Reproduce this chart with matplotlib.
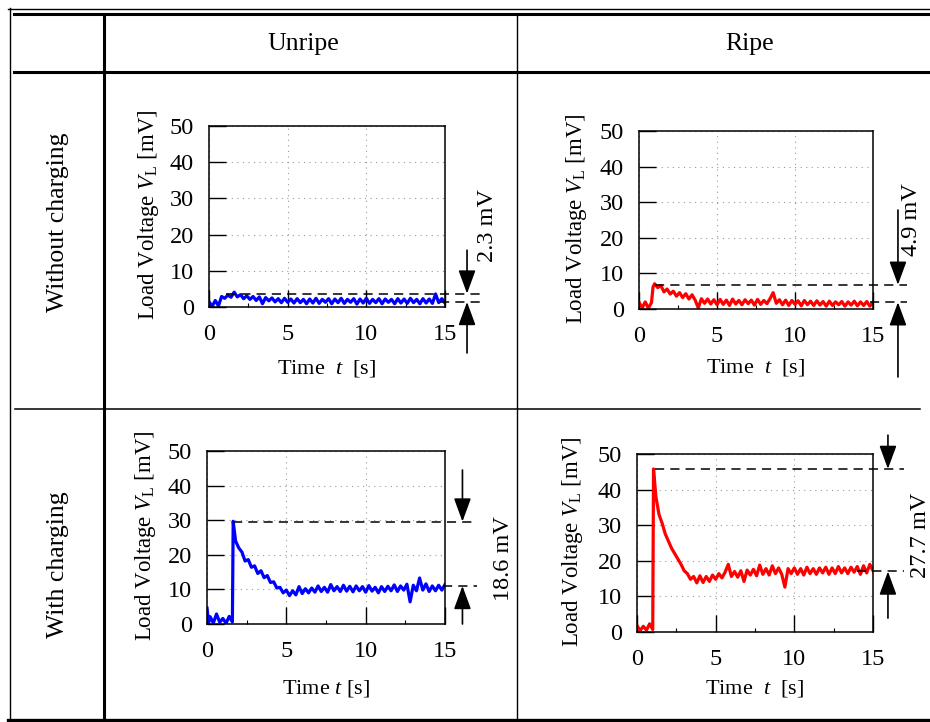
import numpy as np
import matplotlib
matplotlib.use("Agg")
import matplotlib.pyplot as plt
from matplotlib.lines import Line2D
from matplotlib.ticker import MultipleLocator

plt.rcParams['font.family'] = ['Liberation Serif', 'DejaVu Serif']
plt.rcParams['mathtext.fontset'] = 'custom'
plt.rcParams['mathtext.rm'] = 'Liberation Serif'
plt.rcParams['mathtext.it'] = 'Liberation Serif:italic'

# ---- data ----
col_titles = ["Unripe", "Ripe"]
row_titles = ["Without charging", "With charging"]

# unripe, without charging
unripe_off_v = [1.5, 0.2, 1.8, 0.3, 2.9, 2.4, 3.3, 2.7, 4.1, 2.8,
                3.4, 2.3, 3.1, 2.1, 2.9, 1.8, 2.8, 0.9, 2.6, 1.7,
                2.5, 1.4, 2.3, 1.2, 2.4, 1.3, 2.2, 1.1, 2.3, 1.2,
                2.1, 0.9, 2.2, 1.1, 2.4, 1.0, 2.1, 1.3, 2.3, 0.9,
                2.2, 1.2, 2.4, 1.0, 2.1, 1.3, 2.3, 0.8, 2.2, 1.1,
                2.4, 1.0, 2.1, 1.2, 2.3, 0.9, 2.2, 1.3, 2.1, 0.9,
                2.3, 1.1, 2.2, 1.0, 2.4, 1.2, 2.1, 0.9, 2.3, 1.1,
                2.2, 1.0, 3.6, 1.2, 2.3, 1.1]
unripe_off_t = np.linspace(0.0, 15.0, len(unripe_off_v))

# ripe, without charging
ripe_off_t0 = [0.0, 0.2, 0.4, 0.6, 0.8, 0.9]
ripe_off_v0 = [1.9, 0.3, 2.0, 0.2, 1.8, 6.2]
ripe_off_v1 = [7.1, 6.0, 6.6, 4.8, 5.6, 4.2, 5.0, 3.6, 4.6, 3.2,
               4.3, 2.8, 4.0, 2.5, 0.3, 2.9, 1.6, 2.8, 1.4, 2.6,
               1.2, 2.7, 1.3, 2.5, 1.0, 2.8, 1.4, 2.4, 1.2, 2.6,
               1.5, 2.5, 1.1, 2.7, 1.3, 2.4, 1.5, 2.9, 4.6, 1.6,
               2.6, 1.2, 2.5, 1.0, 2.4, 1.3, 2.3, 0.9, 2.4, 1.2,
               2.2, 1.0, 2.3, 1.1, 2.1, 0.8, 2.2, 1.0, 2.0, 1.2,
               2.1, 0.8, 2.0, 1.1, 2.2, 0.9, 2.0, 1.0, 2.1, 0.8,
               1.9]
ripe_off_t1 = np.linspace(1.0, 15.0, len(ripe_off_v1))

# unripe, with charging
unripe_on_t0 = [0.0, 0.1, 0.2, 0.4, 0.6, 0.8, 1.0, 1.2, 1.4, 1.6, 1.65]
unripe_on_v0 = [4.6, 0.4, 2.1, 0.3, 2.9, 0.5, 1.6, 0.2, 2.2, 0.6, 29.7]
unripe_on_v1 = [24.0, 22.0, 20.8, 18.2, 18.6, 16.4, 16.8, 14.6, 15.4, 13.4,
                14.0, 12.0, 12.2, 10.4, 10.6, 9.0, 9.8, 8.2, 9.6, 8.4,
                10.8, 8.8, 10.2, 9.0, 10.4, 9.2, 11.0, 9.4, 10.6, 9.2,
                11.4, 9.6, 10.8, 9.4, 11.2, 9.5, 10.9, 9.3, 11.0, 9.6,
                10.8, 9.2, 11.1, 9.5, 10.6, 9.0, 10.8, 9.4, 10.9, 9.6,
                11.3, 9.4, 11.0, 9.8, 11.5, 6.4, 11.2, 9.6, 13.3, 9.8,
                11.6, 9.4, 11.0, 9.6, 11.2, 9.8, 11.4]
unripe_on_t1 = np.linspace(1.8, 15.0, len(unripe_on_v1))

# ripe, with charging
ripe_on_t0 = [0.0, 0.2, 0.4, 0.6, 0.8, 1.0, 1.05]
ripe_on_v0 = [1.8, 0.4, 1.6, 0.5, 2.3, 0.7, 45.8]
ripe_on_v1 = [38.0, 33.0, 30.5, 27.5, 25.5, 23.5, 22.0, 20.5, 19.0, 17.2,
              16.4, 14.8, 15.6, 13.8, 15.8, 13.9, 15.6, 14.2, 16.0, 14.8,
              16.4, 15.2, 16.8, 19.0, 15.6, 17.0, 15.4, 17.2, 14.2, 17.4,
              16.0, 17.6, 15.8, 18.8, 16.2, 17.8, 16.0, 18.6, 16.4, 18.0,
              16.2, 12.6, 17.8, 16.4, 18.0, 16.2, 17.8, 16.0, 18.2, 16.4,
              17.8, 16.2, 18.0, 16.6, 18.2, 16.2, 18.0, 16.4, 18.4, 16.6,
              18.0, 16.4, 18.2, 16.8, 18.4, 16.2, 18.6, 16.6, 19.0, 17.2]
ripe_on_t1 = np.linspace(1.2, 15.0, len(ripe_on_v1))

# peak / steady levels marked with dashed lines, and the labels
levels_hi = [3.7, 6.8, 29.6, 45.8]
levels_lo = [1.4, 1.9, 11.0, 17.0]
diff_labels = ["2.3 mV", "4.9 mV", "18.6 mV", "27.7 mV"]

W, H = 930, 722
fig = plt.figure(figsize=(W / 100, H / 100), dpi=100)


def px(x, y):
    return x / W, 1 - y / H


def hline(x0, x1, y, lw):
    a, b = px(x0, y)
    c, _ = px(x1, y)
    fig.add_artist(Line2D([a, c], [b, b], color='black', lw=lw, transform=fig.transFigure))


def vline(x, y0, y1, lw):
    a, b = px(x, y0)
    _, d = px(x, y1)
    fig.add_artist(Line2D([a, a], [b, d], color='black', lw=lw, transform=fig.transFigure))


# table frame
hline(8, 930, 8.5, 1.0)
vline(9.5, 8, 722, 1.0)
hline(14, 930, 14, 2.2)
hline(14, 930, 72, 2.2)
hline(8, 930, 719.5, 2.4)
vline(104, 14, 722, 2.2)
vline(517, 14, 719, 1.0)
hline(15, 920, 408.5, 1.1)

fs_table = 18.5
fig.text(*px(303, 44), col_titles[0], fontsize=fs_table, ha='center', va='center')
fig.text(*px(750, 44), col_titles[1], fontsize=fs_table, ha='center', va='center')
fig.text(*px(58, 222), row_titles[0], fontsize=fs_table, ha='center', va='center', rotation=90)
fig.text(*px(58, 565), row_titles[1], fontsize=fs_table, ha='center', va='center', rotation=90)

boxes = [(209, 126, 445, 307), (639, 131, 873, 309),
         (207, 451, 445, 624), (637, 454, 873, 632)]
axs = []
for (x0, y0, x1, y1) in boxes:
    l, b = px(x0, y1)
    axs.append(fig.add_axes([l, b, (x1 - x0) / W, (y1 - y0) / H]))

xlabels = [r'Time  $t$  [s]', r'Time  $t$  [s]', r'Time $t$ [s]', r'Time  $t$  [s]']
xlab_y = [-0.28, -0.27, -0.315, -0.26]
ylab_x = [-0.205, -0.215, -0.205, -0.22]
for i, ax in enumerate(axs):
    ax.set_xlim(0, 15)
    ax.set_ylim(0, 50)
    ax.set_xticks([0, 5, 10, 15])
    ax.set_yticks([0, 10, 20, 30, 40, 50])
    ax.xaxis.set_minor_locator(MultipleLocator(2.5))
    ax.tick_params(which='major', direction='in', length=12, width=1.0,
                   labelsize=17.5, pad=12, top=False, right=False)
    ax.tick_params(which='minor', direction='in', length=3, width=0.8, top=False)
    ax.tick_params(axis='y', pad=11)
    ax.grid(True, which='major', linestyle=(0, (1, 4)), color='#999999', lw=0.8)
    for s in ax.spines.values():
        s.set_linewidth(1.1)
    ax.set_ylabel(r'Load Voltage $V_{\mathrm{L}}$ [mV]', fontsize=16.5)
    ax.yaxis.set_label_coords(ylab_x[i], 0.51)
    ax.set_xlabel(xlabels[i], fontsize=16)
    ax.xaxis.set_label_coords(0.5, xlab_y[i])

axs[0].plot(unripe_off_t, unripe_off_v, color='#0000ff', lw=2.3)
axs[1].plot(ripe_off_t0 + list(ripe_off_t1), ripe_off_v0 + ripe_off_v1, color='#ff0000', lw=2.3)
axs[2].plot(unripe_on_t0 + list(unripe_on_t1), unripe_on_v0 + unripe_on_v1, color='#0000ff', lw=2.3)
axs[3].plot(ripe_on_t0 + list(ripe_on_t1), ripe_on_v0 + ripe_on_v1, color='#ff0000', lw=2.3)

# dashed guides, arrows and difference labels (x in data units, beyond the axes)
hi_start = [1.1, 1.0, 1.64, 1.14]
lo_start = [14.7, 14.8, 14.9, 14.0]
dash_end = [17.35, 17.2, 17.0, 17.0]
arrow_x = [16.4, 16.6, 16.1, 15.95]
arrow_top = [15.7, 27.8, 44.5, 55.3]
arrow_bot = [-12.7, -19.1, 0.0, 3.9]
text_x = [17.7, 17.45, 18.7, 18.0]
text_y = [22.6, 25.0, 19.0, 27.2]

for i, ax in enumerate(axs):
    ax.plot([hi_start[i], dash_end[i]], [levels_hi[i]] * 2, color='black',
            lw=1.1, ls=(0, (6, 4)), clip_on=False)
    ax.plot([lo_start[i], dash_end[i]], [levels_lo[i]] * 2, color='black',
            lw=1.1, ls=(0, (6, 4)), clip_on=False)
    style = dict(arrowstyle='-|>,head_length=0.6,head_width=0.22', color='black',
                 lw=1.2, mutation_scale=24, shrinkA=0, shrinkB=0)
    ax.annotate('', xy=(arrow_x[i], levels_hi[i]), xytext=(arrow_x[i], arrow_top[i]),
                arrowprops=style, annotation_clip=False)
    ax.annotate('', xy=(arrow_x[i], levels_lo[i]), xytext=(arrow_x[i], arrow_bot[i]),
                arrowprops=style, annotation_clip=False)
    ax.text(text_x[i], text_y[i], diff_labels[i], rotation=90, fontsize=17.5,
            ha='center', va='center', clip_on=False)

fig.savefig('out.png', dpi=100, facecolor='white')
